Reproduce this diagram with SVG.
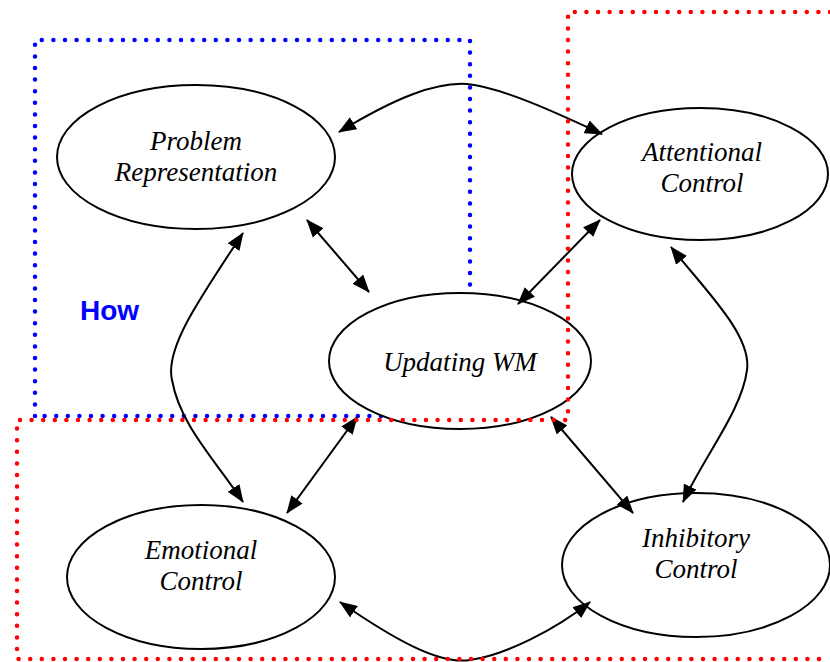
<svg xmlns="http://www.w3.org/2000/svg" width="830" height="662" viewBox="0 0 830 662">
  <style>
    .node ellipse { fill: #ffffff; stroke: #000000; stroke-width: 2; }
    .node text { font-family: "Liberation Serif", "DejaVu Serif", serif; font-style: italic; font-size: 27px; fill: #000000; text-anchor: middle; }
    .conn path { fill: none; stroke: #000000; stroke-width: 2; marker-start: url(#head); marker-end: url(#head); }
    .dots { fill: none; stroke-width: 4.5; stroke-linecap: round; stroke-dasharray: 0 11.6; }
    .label { font-family: "Liberation Sans", Arial, sans-serif; font-weight: bold; font-size: 28px; fill: #0000ff; }
  </style>
  <defs>
    <marker id="head" viewBox="0 0 18 14" markerWidth="18" markerHeight="14" refX="17" refY="7" orient="auto-start-reverse" markerUnits="userSpaceOnUse">
      <path d="M0,0 L18,7 L0,14 z" fill="#000000"/>
    </marker>
  </defs>
  <rect width="830" height="662" fill="#ffffff"/>

  <!-- blue dotted region -->
  <path class="dots" stroke="#0000ff" d="M35,416 V40 H470 V416 H35"/>
  <text class="label" x="80" y="320">How</text>

  <!-- nodes -->
  <g id="problem-representation" class="node">
    <ellipse cx="196" cy="157" rx="139" ry="72"/>
    <text x="196" y="150">Problem</text>
    <text x="196" y="181">Representation</text>
  </g>
  <g id="attentional-control" class="node">
    <ellipse cx="700" cy="174" rx="128" ry="66"/>
    <text x="702" y="161">Attentional</text>
    <text x="702" y="192">Control</text>
  </g>
  <g id="updating-wm" class="node">
    <ellipse cx="460" cy="361" rx="131" ry="68"/>
    <text x="460" y="371">Updating WM</text>
  </g>
  <g id="emotional-control" class="node">
    <ellipse cx="201" cy="577" rx="134" ry="72"/>
    <text x="201" y="559">Emotional</text>
    <text x="201" y="590">Control</text>
  </g>
  <g id="inhibitory-control" class="node">
    <ellipse cx="696" cy="565" rx="134" ry="72"/>
    <text x="696" y="547">Inhibitory</text>
    <text x="696" y="578">Control</text>
  </g>

  <!-- connectors -->
  <g id="connectors" class="conn">
    <path d="M339,132 C395,98 435,82 467,84 C500,87 555,112 602,134"/>
    <path d="M307,220 L369,292"/>
    <path d="M600,220 L518,304"/>
    <path d="M243,233 C195,305 165,350 172,380 C180,425 215,460 243,502"/>
    <path d="M357,417 L287,513"/>
    <path d="M551,417 L633,513"/>
    <path d="M671,247 C705,290 752,335 747,370 C742,410 705,455 683,502"/>
    <path d="M340,602 C395,640 440,665 470,660 C505,655 555,630 590,602"/>
  </g>

  <!-- red dotted region -->
  <path class="dots" stroke="#ff0000" d="M830,12 H568 V420 H17 V659 H830"/>
</svg>
